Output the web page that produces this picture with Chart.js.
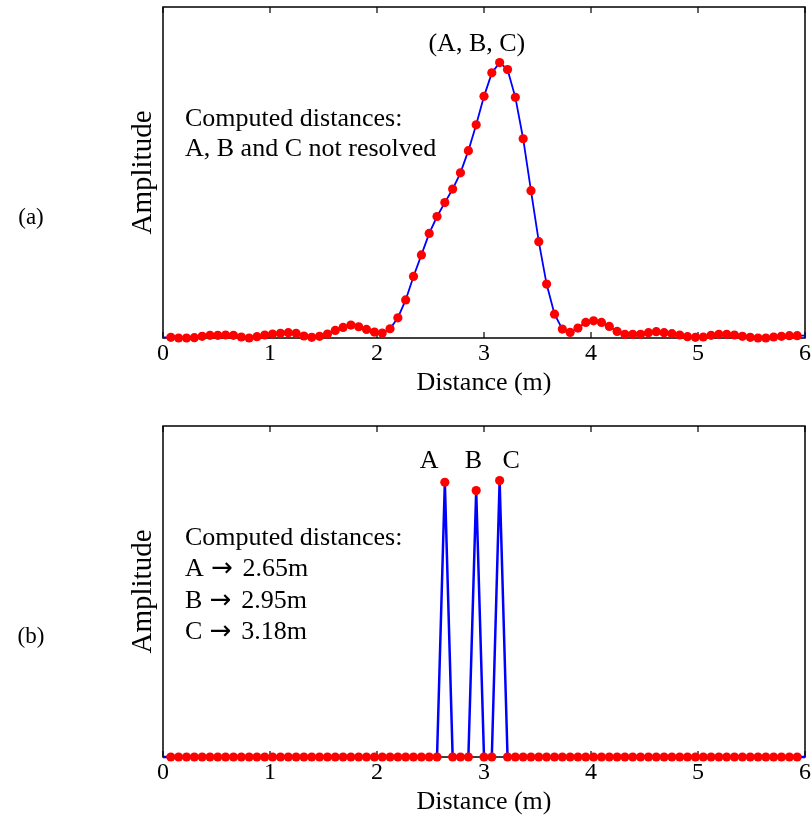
<!DOCTYPE html>
<html><head><meta charset="utf-8">
<script src="https://cdn.jsdelivr.net/npm/chart.js@4.4.1/dist/chart.umd.min.js"></script>
<style>
html,body{margin:0;padding:0;background:#fff;overflow:hidden;width:812px;height:816px;}
.wrap{position:absolute;left:0;width:812px;height:410px;}
</style></head><body>
<div class="wrap" style="top:0"><canvas id="ca" width="812" height="410"></canvas></div>
<div class="wrap" style="top:419px"><canvas id="cb" width="812" height="410"></canvas></div>
<script>
// ---- data ----
const distances = [0, 0.073, 0.146, 0.220, 0.293, 0.366, 0.439, 0.512, 0.585, 0.659, 0.732, 0.805, 0.878, 0.951, 1.024, 1.098, 1.171, 1.244, 1.317, 1.390, 1.463, 1.537, 1.610, 1.683, 1.756, 1.829, 1.902, 1.976, 2.049, 2.122, 2.195, 2.268, 2.341, 2.415, 2.488, 2.561, 2.634, 2.707, 2.780, 2.854, 2.927, 3.000, 3.073, 3.146, 3.220, 3.293, 3.366, 3.439, 3.512, 3.585, 3.659, 3.732, 3.805, 3.878, 3.951, 4.024, 4.098, 4.171, 4.244, 4.317, 4.390, 4.463, 4.537, 4.610, 4.683, 4.756, 4.829, 4.902, 4.976, 5.049, 5.122, 5.195, 5.268, 5.341, 5.415, 5.488, 5.561, 5.634, 5.707, 5.780, 5.854, 5.927, 6.000];
const amplitudeA = [0.002, 0.002, 0.000, 0.000, 0.001, 0.005, 0.008, 0.008, 0.009, 0.008, 0.003, 0.000, 0.004, 0.009, 0.012, 0.014, 0.016, 0.014, 0.006, 0.002, 0.005, 0.012, 0.023, 0.032, 0.039, 0.034, 0.026, 0.018, 0.015, 0.028, 0.061, 0.115, 0.186, 0.251, 0.316, 0.367, 0.409, 0.450, 0.499, 0.566, 0.644, 0.730, 0.801, 0.832, 0.811, 0.727, 0.602, 0.445, 0.291, 0.163, 0.072, 0.027, 0.017, 0.030, 0.047, 0.052, 0.047, 0.035, 0.020, 0.011, 0.011, 0.011, 0.016, 0.019, 0.016, 0.013, 0.009, 0.004, 0.002, 0.003, 0.008, 0.011, 0.011, 0.009, 0.005, 0.002, 0.000, 0.000, 0.003, 0.005, 0.007, 0.007, 0.007];
const amplitudeB = [0, 0, 0, 0, 0, 0, 0, 0, 0, 0, 0, 0, 0, 0, 0, 0, 0, 0, 0, 0, 0, 0, 0, 0, 0, 0, 0, 0, 0, 0, 0, 0, 0, 0, 0, 0, 0.830, 0, 0, 0, 0.805, 0, 0, 0.835, 0, 0, 0, 0, 0, 0, 0, 0, 0, 0, 0, 0, 0, 0, 0, 0, 0, 0, 0, 0, 0, 0, 0, 0, 0, 0, 0, 0, 0, 0, 0, 0, 0, 0, 0, 0, 0, 0, 0];
const xTicks = [0, 1, 2, 3, 4, 5, 6];
const xTitle = 'Distance (m)';
const yTitle = 'Amplitude';
const panelNames = ['(a)', '(b)'];
const notesA = ['Computed distances:', 'A, B and C not resolved'];
const notesB = ['Computed distances:', 'A \u2192 2.65m', 'B \u2192 2.95m', 'C \u2192 3.18m'];
const peakTextA = ['(A, B, C)'];
const peakTextB = ['A', 'B', 'C'];
const peakTextXA = [2.933];
const peakTextXB = [2.488, 2.901, 3.254];

const SERIF = '"Liberation Serif", "Times New Roman", serif';
const ARROW_FONT = '"DejaVu Sans", sans-serif';

// draws a line of text; the arrow glyph uses a wider font like the reference
function drawMixed(ctx, text, x, y) {
  const parts = text.split('\u2192');
  let cx = x;
  parts.forEach((p, i) => {
    ctx.font = '26px ' + SERIF;
    ctx.fillText(p, cx, y);
    cx += ctx.measureText(p).width;
    if (i < parts.length - 1) {
      ctx.font = '26px ' + ARROW_FONT;
      ctx.fillText('\u2192', cx + 1, y);
      cx += ctx.measureText('\u2192').width + 4;
    }
  });
}

const framePlugin = {
  id: 'frame',
  beforeDatasetsDraw(chart) {
    const {ctx, chartArea: a, scales: {x}} = chart;
    ctx.save();
    ctx.strokeStyle = '#000';
    ctx.lineWidth = 1.5;
    ctx.strokeRect(a.left, a.top, a.right - a.left, a.bottom - a.top);
    ctx.lineWidth = 1.2;
    ctx.beginPath();
    xTicks.forEach(v => {
      const px = x.getPixelForValue(v);
      ctx.moveTo(px, a.bottom); ctx.lineTo(px, a.bottom - 6);
      ctx.moveTo(px, a.top); ctx.lineTo(px, a.top + 6);
    });
    ctx.stroke();
    ctx.restore();
  },
  afterDraw(chart, args, opts) {
    const {ctx, chartArea: a, scales: {x, y}} = chart;
    ctx.save();
    ctx.fillStyle = '#000';
    // panel name
    ctx.font = '23px ' + SERIF;
    ctx.textAlign = 'center';
    ctx.textBaseline = 'middle';
    ctx.fillText(opts.panel, 31, 218);
    // notes
    ctx.textBaseline = 'alphabetic';
    ctx.textAlign = 'left';
    opts.notes.forEach((t, i) => drawMixed(ctx, t, a.left + 22, a.top + 119 + i * opts.lineGap));
    // peak labels
    ctx.font = '26px ' + SERIF;
    ctx.textAlign = 'center';
    opts.peaks.forEach((t, i) => ctx.fillText(t, x.getPixelForValue(opts.peakX[i]), y.getPixelForValue(opts.peakY)));
    ctx.restore();
  }
};

function makeChart(id, values, lineWidth, notes, lineGap, panel, peaks, peakX, peakY) {
  return new Chart(document.getElementById(id), {
    type: 'line',
    data: {
      datasets: [{
        data: distances.map((d, i) => ({x: d, y: values[i]})),
        borderColor: '#0000ff',
        borderWidth: lineWidth,
        backgroundColor: '#ff0000',
        pointBackgroundColor: '#ff0000',
        pointBorderWidth: 0,
        pointRadius: c => (c.dataIndex === 0 || c.dataIndex === distances.length - 1) ? 0 : 4.6,
        tension: 0,
        fill: false,
        clip: false
      }]
    },
    options: {
      responsive: false,
      animation: false,
      events: [],
      layout: {padding: {left: 0, top: 7, right: 7, bottom: 0}},
      plugins: {
        legend: {display: false},
        tooltip: {enabled: false},
        frame: {notes, lineGap, panel, peaks, peakX, peakY}
      },
      scales: {
        x: {
          type: 'linear', min: 0, max: 6,
          afterBuildTicks: s => { s.ticks = xTicks.map(v => ({value: v})); },
          afterFit: s => { s.height = 72; },
          grid: {display: false, drawTicks: false},
          border: {display: false},
          ticks: {color: '#000', font: {family: SERIF, size: 24}, padding: 1, maxRotation: 0},
          title: {display: true, text: xTitle, color: '#000', font: {family: SERIF, size: 26}, padding: {top: 11, bottom: 11}}
        },
        y: {
          min: 0, max: 1,
          afterFit: s => { s.width = 163; },
          grid: {display: false, drawTicks: false},
          border: {display: false},
          ticks: {display: false},
          title: {display: true, text: yTitle, color: '#000', font: {family: SERIF, size: 29}, padding: {top: 126, bottom: 126}}
        }
      }
    },
    plugins: [framePlugin]
  });
}

makeChart('ca', amplitudeA, 1.8, notesA, 30, panelNames[0], peakTextA, peakTextXA, 0.866);
makeChart('cb', amplitudeB, 2.5, notesB, 31.3, panelNames[1], peakTextB, peakTextXB, 0.872);
</script>
</body></html>
